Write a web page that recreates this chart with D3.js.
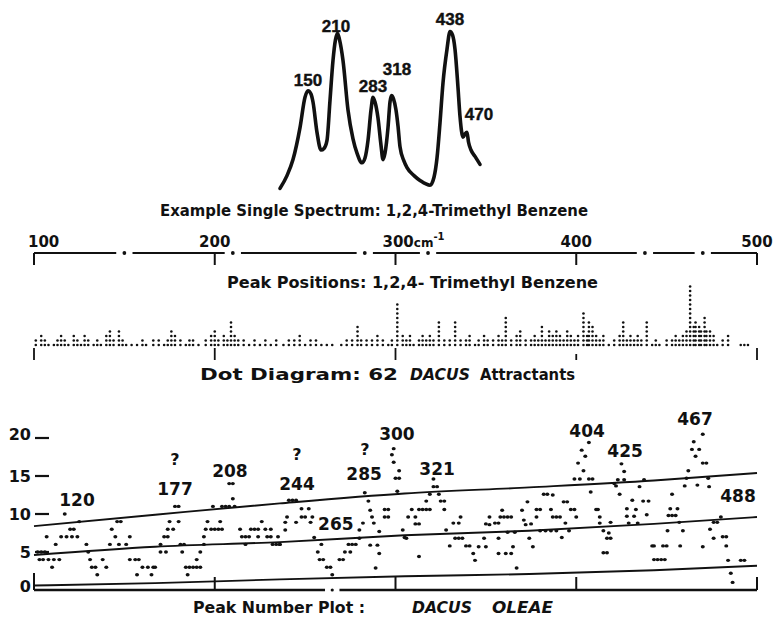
<!DOCTYPE html>
<html>
<head>
<meta charset="utf-8">
<script src="https://cdn.jsdelivr.net/npm/d3@7"></script>
<style>
  html, body { margin: 0; padding: 0; background: #fff; }
  svg { display: block; }
</style>
</head>
<body>
<svg id="fig" width="775" height="618"></svg>
<script>
// ---------- data ----------

// wavenumber ticks (cm-1)
const axisTicks = [100, 200, 300, 400, 500];

// Raman peak positions of 1,2,4-trimethyl benzene (cm-1)
const tmbPeaks = [150, 210, 283, 318, 438, 470];

// example single spectrum trace: wavenumber and relative intensity
const spectrumWn  = [96, 110, 122, 136, 146, 152, 158, 162, 170, 178, 184, 190, 196, 202, 207, 211, 215, 222, 232, 242, 250, 260, 266, 272, 278, 282, 286, 292, 298, 302, 306, 312, 316, 319, 323, 328, 332, 336, 344, 350, 364, 376, 396, 404, 410, 416, 422, 430, 436, 441, 446, 452, 456, 462, 466, 470, 473, 478, 486, 496];
const spectrumInt = [1, 9, 19, 39, 58, 62, 60, 55, 36, 25, 26, 31, 56, 81, 94, 98, 94, 81, 50, 32, 23, 17, 20, 31, 50, 58, 55, 45, 28, 19, 23, 39, 55, 59, 57, 50, 40, 27, 18, 14, 9, 6, 3, 8, 20, 42, 67, 88, 99, 97, 88, 64, 46, 33, 35, 36, 30, 25, 21, 16];

// spectrum peak labels: text, wavenumber, intensity level of the label baseline
const spectrumLabels = [
  ["150", 152, 65], ["210", 208, 98.5], ["283", 282, 61],
  ["318", 330, 72], ["438", 436, 103], ["470", 494, 44]
];

// dot diagram: [wavenumber, number of attractants with a peak there]
const dotColumns = [
  [101,2],[104,3],[106,2],[108,1],[111,1],[113,2],[115,3],[117,2],[119,1],[122,3],[124,2],[126,1],[128,3],[130,2],
  [133,1],[135,2],[137,1],[140,3],[142,4],[144,2],[147,4],[149,2],[151,1],[154,1],[157,1],[160,2],[162,1],[166,2],
  [169,2],[172,1],[174,2],[176,4],[178,3],[181,2],[184,1],[186,2],[188,2],[191,1],[195,2],[198,3],[200,4],[202,2],
  [205,3],[207,2],[209,6],[211,3],[213,2],[216,2],[219,1],[222,2],[225,1],[228,2],[231,1],[234,2],[238,1],[241,2],
  [244,2],[247,3],[250,1],[253,2],[256,2],[259,1],[262,1],[265,1],[270,1],[273,2],[276,2],[279,5],[281,2],[284,2],
  [287,2],[290,3],[293,2],[296,1],[298,2],[301,10],[304,3],[306,2],[308,3],[310,1],[313,2],[315,3],[317,2],[319,3],
  [321,2],[324,6],[327,2],[330,2],[333,6],[336,2],[339,2],[341,3],[344,1],[346,2],[349,3],[351,2],[354,2],[357,3],
  [359,2],[361,7],[364,2],[367,3],[369,4],[372,2],[375,2],[377,3],[379,2],[381,5],[383,2],[385,4],[387,3],[389,4],
  [391,3],[393,2],[395,4],[397,3],[399,2],[401,3],[404,8],[406,3],[407,6],[409,5],[411,3],[413,2],[415,3],[418,1],
  [421,2],[424,3],[426,6],[428,2],[430,3],[432,2],[434,3],[436,2],[439,6],[442,1],[444,2],[446,1],[450,2],[453,2],
  [455,3],[457,2],[459,3],[461,4],[463,14],[465,5],[466,6],[468,5],[469,4],[471,7],[472,4],[474,4],[476,3],[478,1],
  [481,2],[484,3],[491,1],[493,1],[495,1]
];

// peak number plot for Dacus oleae: [wavenumber, number of peaks]
const peakCounts = [
  // 100 - 167
  [117,10],[125,9],[146,9],[148,9],[120,8],[122,8],[143,8],
  [107,7],[115,7],[118,7],[121,7],[124,7],[145,7],[153,7],
  [112,6],[129,6],[142,6],[147,6],[151,6],[102,5],[104,5],[106,5],[130,5],
  [103,4],[105,4],[108,4],[111,4],[114,4],[131,4],[138,4],[153,4],[156,4],[158,4],
  [110,3],[132,3],[134,3],[140,3],[160,3],[163,3],[166,3],[135,2],[157,2],[165,2],
  // 167 - 236
  [208,14],[210,14],[210,12],[178,11],[180,11],[199,11],[204,11],[206,11],[208,11],[211,11],
  [175,9],[180,9],[196,9],[203,9],[226,9],
  [174,8],[177,8],[195,8],[198,8],[200,8],[202,8],[204,8],[214,8],[220,8],[222,8],[224,8],[228,8],[231,8],
  [172,7],[174,7],[194,7],[215,7],[217,7],[219,7],[224,7],[229,7],[231,7],[235,7],
  [170,6],[181,6],[183,6],[194,6],[217,6],[232,6],[234,6],[236,6],
  [170,5],[173,5],[182,5],[192,5],[190,4],
  [167,3],[184,3],[186,3],[188,3],[190,3],[192,3],[185,2],
  // 236 - 305
  [299,18.6],[298,17.8],[299,16.8],[302,15.7],[300,14.7],[302,14.7],[283,12.8],[301,13],
  [241,11.8],[243,11.8],[245,11.8],[285,11.7],
  [248,10.7],[252,10.7],[286,10.5],[294,10.6],[296,10.6],
  [240,9.6],[248,9.6],[250,9.6],[254,9.6],[287,9.6],[294,9.6],[296,9.6],
  [239,8.9],[245,8.9],[253,8.9],[282,8.8],[288,8.8],
  [239,7.9],[280,7.9],[291,7.7],[304,7.9],[255,6.9],[280,6.8],[305,6.9],
  [236,6],[257,5],[259,6],[258,4],[260,4],[262,3],[264,3],[265,2],[269,4],[271,4],
  [272,5],[275,5],[274,6],[276,6],[278,6],[286,5.9],[290,5.9],[291,4.8],[289,2.9],
  // 305 - 374
  [321,14.6],[321,13.6],[323,13.6],[319,12.6],[324,12.6],
  [317,11.7],[325,11.7],[327,11.7],[373,11.6],
  [309,10.6],[313,10.6],[315,10.6],[317,10.6],[319,10.6],[327,10.6],[359,10.5],[370,10.5],
  [307,9.6],[311,9.6],[336,9.6],[352,9.6],[358,9.6],[360,9.6],[362,9.6],[364,9.6],
  [311,8.7],[313,8.7],[332,8.8],[335,8.8],[350,8.7],[352,8.6],[355,8.8],[357,8.8],[371,9.2],[372,8.6],
  [328,7.9],[362,7.6],[366,7.6],
  [306,6.8],[333,6.8],[335,6.8],[337,6.8],[349,6.8],[357,6.8],
  [330,5.8],[339,5.8],[341,5.8],[346,5.7],[350,5.7],[365,5.7],
  [343,4.8],[357,4.8],[361,4.8],[364,4.8],[344,3.9],[313,4.4],[367,2.9],
  // 374 - 443
  [407,19.4],[403,18.4],[405,17.6],[401,16.7],[425,16.6],[404,15.7],[426.5,15.6],
  [399,14.6],[402,14.6],[407,14.6],[409,14.6],[423,14.5],[426.5,14.5],[437.5,14.5],
  [421,14],[422,13.7],[435,13.6],[408,12.9],
  [382,12.6],[384,12.6],[387,12.5],[424,12.6],
  [431,11.8],[437,11.7],[440,11.7],[393,11.6],[395,11.6],
  [378,10.6],[380,10.6],[386,10.6],[397,10.6],[399,10.6],[411,10.6],[412,10.6],[428,10.7],[433,10.6],
  [378,9.6],[387,9.6],[389,9.6],[391,9.6],[400,9.6],[413,9.6],[428,9.7],[432,9.7],[439,9.9],
  [375,8.7],[394,8.8],[413,8.8],[419,8.9],[429,8.8],[434,8.8],
  [380,7.8],[383,7.8],[386,7.8],[389,7.8],[396,7.8],[415,7.8],[418,7.5],
  [374,6.8],[392,6.9],[417,6.8],[419,6.8],[376,5.7],[442,5.8],[415,4.9],[417,4.9],
  // 443 - 500
  [470,20.5],[465,19.5],[464,18.5],[468,18.5],[466,17.6],[470,16.7],[472,16.7],[462,15.7],
  [461,14.7],[473,14.7],[460,13.7],[467,13.8],[473.5,13.6],[453,12.6],
  [452,10.7],[456,10.7],[451,9.8],[453,9.8],[455,9.8],[480,9.6],
  [457,8.9],[476,8.9],[478,8.9],[450.5,7.8],[459,7.8],[474,8],
  [476,6.8],[481,7],[483,7],
  [443,5.8],[448,5.8],[450,5.8],[457.5,5.8],[483,5.8],[470,5.7],
  [443,4],[445,4],[447,4],[449,4],[484,3.9],[491,3.9],[493,3.9],
  [485.5,2.2],[486.5,1]
];

// guide lines across the peak number plot
const guideWn     = [100, 167, 236, 305, 374, 443, 500];
const upperGuide  = [8.4, 9.9, 11.4, 12.7, 13.5, 14.4, 15.4];
const middleGuide = [4.6, 5.7, 6.3, 7.2, 7.8, 8.7, 9.6];
const lowerGuide  = [0.6, 0.9, 1.4, 1.8, 2.1, 2.6, 3.2];

// count axis ticks
const countTicks = [0, 5, 10, 15, 20];

// peak labels: text, wavenumber, count level of the label baseline
const peakLabels = [
  ["120", 123.8, 11.05], ["177", 178, 12.5], ["208", 208.4, 14.9], ["244", 245.5, 13.2],
  ["265", 267, 7.9], ["285", 282.6, 14.5], ["300", 300.8, 19.7], ["321", 323, 15.1],
  ["404", 406, 20.1], ["425", 427, 17.5], ["467", 465.7, 21.7], ["488", 489.5, 11.6]
];
// doubtful assignments
const queryMarks = [[178, 16.4], [245.5, 17.1], [283, 17.8]];

// ---------- drawing ----------
const ink = "#111";
const svg = d3.select("#fig");
svg.append("rect").attr("width", 775).attr("height", 618).attr("fill", "#fff");

const FONT = "'DejaVu Sans', Verdana, sans-serif";

const x = d3.scaleLinear().domain([100, 500]).range([34, 757]);
const yCount = d3.scaleLinear().domain([0, 20]).range([590, 438]);
const xSpec = d3.scaleLinear().domain([150, 438]).range([307, 451]);
const ySpec = d3.scaleLinear().domain([0, 100]).range([190, 30]);

function fitText(str, x0, x1, base, size, italic) {
  return svg.append("text")
    .attr("x", x0).attr("y", base)
    .attr("textLength", x1 - x0).attr("lengthAdjust", "spacingAndGlyphs")
    .attr("font-family", FONT).attr("font-weight", "bold")
    .attr("font-style", italic ? "italic" : "normal")
    .attr("font-size", size).attr("fill", ink)
    .text(str);
}

// --- example spectrum ---
const spectrum = spectrumWn.map((w, i) => [w, spectrumInt[i]]);
svg.append("path")
  .datum(spectrum)
  .attr("fill", "none").attr("stroke", ink).attr("stroke-width", 3.6)
  .attr("stroke-linejoin", "round").attr("stroke-linecap", "round")
  .attr("d", d3.line().x(d => xSpec(d[0])).y(d => ySpec(d[1])).curve(d3.curveMonotoneX));

svg.selectAll("text.spec").data(spectrumLabels).enter().append("text")
  .attr("class", "spec")
  .attr("x", d => xSpec(d[1])).attr("y", d => ySpec(d[2]))
  .attr("text-anchor", "middle")
  .attr("font-family", "'Liberation Sans', Arial, sans-serif").attr("font-weight", "bold")
  .attr("font-size", 17).attr("fill", ink)
  .attr("stroke", ink).attr("stroke-width", 0.4)
  .text(d => d[0]);

fitText("Example  Single Spectrum: 1,2,4-Trimethyl Benzene", 160, 588, 216, 15);

// --- wavenumber axis with peak positions marked as gaps and dots ---
const axisY = 253;
const gap = 4.5;
let start = 100;
const segs = [];
tmbPeaks.forEach(p => { segs.push([start, p - gap]); start = p + gap; });
segs.push([start, 500]);
svg.selectAll("line.seg").data(segs).enter().append("line")
  .attr("x1", d => x(d[0])).attr("x2", d => x(d[1]))
  .attr("y1", axisY).attr("y2", axisY)
  .attr("stroke", ink).attr("stroke-width", 2.2);
svg.selectAll("circle.pk").data(tmbPeaks).enter().append("circle")
  .attr("cx", d => x(d)).attr("cy", axisY).attr("r", 1.9).attr("fill", ink);
svg.selectAll("line.tt").data(axisTicks).enter().append("line")
  .attr("x1", d => x(d)).attr("x2", d => x(d))
  .attr("y1", axisY).attr("y2", axisY + 12)
  .attr("stroke", ink).attr("stroke-width", 2);

axisTicks.forEach(t => {
  const txt = svg.append("text")
    .attr("y", 247)
    .attr("font-family", FONT).attr("font-weight", "bold")
    .attr("font-size", 15).attr("fill", ink);
  if (t === 100) {
    txt.attr("x", x(t) - 6).attr("text-anchor", "start").text(t);
  } else if (t === 300) {
    txt.attr("x", x(t) - 13).attr("text-anchor", "start");
    txt.append("tspan").text(t);
    txt.append("tspan").attr("font-size", 12).text("cm");
    txt.append("tspan").attr("font-size", 10).attr("dy", -7).text("-1");
  } else {
    txt.attr("x", x(t)).attr("text-anchor", "middle").text(t);
  }
});

fitText("Peak Positions: 1,2,4- Trimethyl Benzene", 227, 598, 288, 15);

// --- dot diagram ---
const dotBase = 345, dotStep = 4.5;
const dots = [];
dotColumns.forEach(([w, n]) => { for (let k = 0; k < n; k++) dots.push([w, k]); });
svg.selectAll("circle.dd").data(dots).enter().append("circle")
  .attr("cx", d => x(d[0])).attr("cy", d => dotBase - d[1] * dotStep)
  .attr("r", 1.3).attr("fill", ink);
svg.selectAll("line.dt").data(axisTicks).enter().append("line")
  .attr("x1", d => x(d)).attr("x2", d => x(d))
  .attr("y1", d => d === 400 ? 354 : 348).attr("y2", 360)
  .attr("stroke", ink).attr("stroke-width", 1.8);

fitText("Dot Diagram: 62", 200, 398, 380, 15);
fitText("DACUS", 410, 470, 380, 15, true);
fitText("Attractants", 480, 575, 380, 15);

// --- peak number plot ---
// count axis labels with short dashes
svg.selectAll("text.yl").data(countTicks).enter().append("text")
  .attr("x", 31).attr("y", d => yCount(d)).attr("dy", d => d === 20 || d === 0 ? "0.15em" : "0.36em")
  .attr("text-anchor", "end")
  .attr("font-family", FONT).attr("font-weight", "bold").attr("font-size", 16).attr("fill", ink)
  .text(d => d);
svg.selectAll("line.yd").data(countTicks.filter(d => d > 0)).enter().append("line")
  .attr("x1", 35).attr("x2", 49)
  .attr("y1", d => yCount(d)).attr("y2", d => yCount(d))
  .attr("stroke", ink).attr("stroke-width", 2.2);

// wavenumber baseline with ticks
const baseGapWn = 265;
[[100, baseGapWn - 4], [baseGapWn + 4, 500]].forEach(s => {
  svg.append("line")
    .attr("x1", x(s[0])).attr("x2", x(s[1]))
    .attr("y1", yCount(0)).attr("y2", yCount(0))
    .attr("stroke", ink).attr("stroke-width", 2.4);
});
svg.append("circle").attr("cx", x(baseGapWn)).attr("cy", yCount(0)).attr("r", 1.6).attr("fill", ink);
svg.selectAll("line.bt").data(axisTicks).enter().append("line")
  .attr("x1", d => x(d)).attr("x2", d => x(d))
  .attr("y1", d => yCount(0) - (d === 100 ? 17 : 13)).attr("y2", yCount(0))
  .attr("stroke", ink).attr("stroke-width", 2);

// guide lines
const guideLine = d3.line().x(d => x(d[0])).y(d => yCount(d[1])).curve(d3.curveMonotoneX);
[upperGuide, middleGuide, lowerGuide].forEach(vals => {
  svg.append("path")
    .datum(guideWn.map((w, i) => [w, vals[i]]))
    .attr("fill", "none").attr("stroke", ink).attr("stroke-width", 1.9)
    .attr("d", guideLine);
});

// peak counts
svg.selectAll("ellipse.pc").data(peakCounts).enter().append("ellipse")
  .attr("cx", d => x(d[0])).attr("cy", d => yCount(d[1]))
  .attr("rx", 2).attr("ry", 1.7).attr("fill", ink);

// peak labels
svg.selectAll("text.pl").data(peakLabels).enter().append("text")
  .attr("x", d => x(d[1])).attr("y", d => yCount(d[2]))
  .attr("text-anchor", "middle")
  .attr("font-family", FONT).attr("font-weight", "bold").attr("font-size", 17).attr("fill", ink)
  .text(d => d[0]);
svg.selectAll("text.q").data(queryMarks).enter().append("text")
  .attr("x", d => x(d[0])).attr("y", d => yCount(d[1]))
  .attr("text-anchor", "middle")
  .attr("font-family", FONT).attr("font-weight", "bold")
  .attr("font-size", 16).attr("fill", ink)
  .text("?");

fitText("Peak Number Plot :", 193, 365, 613, 15);
fitText("DACUS", 412, 472, 613, 15, true);
fitText("OLEAE", 492, 553, 613, 15, true);
</script>
</body>
</html>
